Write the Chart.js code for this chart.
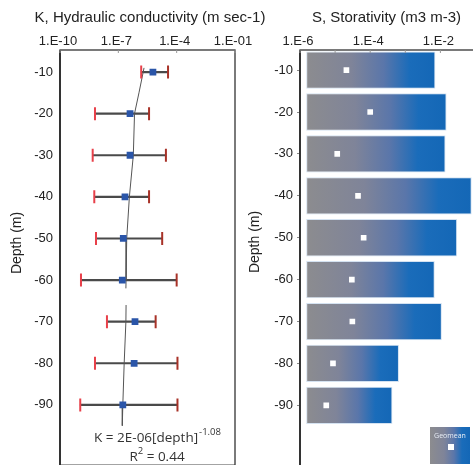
<!DOCTYPE html>
<html>
<head>
<meta charset="utf-8">
<script src="https://cdn.jsdelivr.net/npm/chart.js@4/dist/chart.umd.min.js"></script>
<style>
  html, body { margin: 0; padding: 0; background: #fff; overflow: hidden; width: 473px; height: 465px; }
  #wrap { position: relative; width: 473px; height: 465px; overflow: hidden; }
  canvas { position: absolute; top: 0; }
</style>
</head>
<body>
<div id="wrap">
  <canvas id="kChart" width="300" height="480" style="left:0"></canvas>
  <canvas id="sChart" width="293" height="480" style="left:240px"></canvas>
</div>
<script>
// depth of each test interval (m)
const depths = [-10, -20, -30, -40, -50, -60, -70, -80, -90];

// K, hydraulic conductivity (m/s)
const kGeomean = [6.0e-6, 4.0e-7, 4.0e-7, 2.2e-7, 1.8e-7, 1.6e-7, 7.2e-7, 6.5e-7, 1.7e-7];
const kMin = [1.5e-6, 6.3e-9, 4.8e-9, 5.8e-9, 7.1e-9, 1.2e-9, 2.6e-8, 6.3e-9, 1.1e-9];
const kMax = [3.6e-5, 3.8e-6, 2.8e-5, 3.8e-6, 1.8e-5, 1.0e-4, 8.3e-6, 1.1e-4, 1.1e-4];

// fitted trend line (null = break in the line)
const trendDepth = [-9, -10, -15, -20, -30, -40, -50, -60, -62, null, -66, -70, -80, -90, -95];
const trendK = [2.1e-6, 1.9e-6, 1.15e-6, 6.8e-7, 5.9e-7, 3.7e-7, 2.7e-7, 2.5e-7, 2.45e-7, null, 2.5e-7, 2.45e-7, 2.0e-7, 1.7e-7, 1.6e-7];

const kTickValues = [1e-10, 1e-7, 1e-4, 1e-1];
const kTickLabels = ['1.E-10', '1.E-7', '1.E-4', '1.E-01'];

// S, storativity (m3/m3)
const sBarStart = 1.5e-6;
const sMax = [7.2e-3, 1.5e-2, 1.4e-2, 7.8e-2, 3.0e-2, 6.9e-3, 1.1e-2, 6.6e-4, 4.3e-4];
const sGeomean = [2.1e-5, 1.0e-4, 1.15e-5, 4.5e-5, 6.5e-5, 3.0e-5, 3.1e-5, 8.7e-6, 5.6e-6];

const sTickValues = [1e-6, 1e-5, 1e-4, 1e-3, 1e-2, 1e-1];
const sTickLabels = ['1.E-6', '', '1.E-4', '', '1.E-2', ''];

const FONT = "'Liberation Sans', Arial, sans-serif";
const TXT = '#222';

// box round the plot area + small inward ticks on the top axis
const frame = {
    id: 'frame',
    afterDatasetsDraw(chart) {
        const { ctx, chartArea: a } = chart;
        ctx.save();
        ctx.strokeStyle = '#333';
        ctx.lineWidth = 1.3;
        ctx.strokeRect(a.left, a.top, a.right - a.left, a.bottom - a.top);
        ctx.lineWidth = 2;
        ctx.beginPath();
        ctx.moveTo(a.left, a.top);
        ctx.lineTo(a.left, a.bottom);
        ctx.stroke();
        ctx.lineWidth = 1;
        ctx.strokeStyle = '#999';
        chart.scales.x.ticks.forEach(t => {
            const x = chart.scales.x.getPixelForValue(t.value);
            ctx.beginPath();
            ctx.moveTo(x, a.top);
            ctx.lineTo(x, a.top + 3);
            ctx.stroke();
        });
        ctx.restore();
    }
};

function depthTitle(x, y) {
    return {
        id: 'depthTitle',
        afterDraw(chart) {
            const ctx = chart.ctx;
            ctx.save();
            ctx.translate(x, y);
            ctx.rotate(-Math.PI / 2);
            ctx.font = '14px ' + FONT;
            ctx.fillStyle = TXT;
            ctx.textAlign = 'center';
            ctx.textBaseline = 'middle';
            ctx.fillText('Depth (m)', 0, 0);
            ctx.restore();
        }
    };
}

const fitNote = {
    id: 'fitNote',
    afterDraw(chart) {
        const ctx = chart.ctx;
        ctx.save();
        ctx.fillStyle = '#333';
        ctx.textBaseline = 'alphabetic';
        const big = "13.5px 'Open Sans', sans-serif";
        const sup = "9.5px 'Open Sans', sans-serif";
        ctx.font = big;
        const a = 'K = 2E-06[depth]';
        const wa = ctx.measureText(a).width;
        ctx.font = sup;
        const wb = ctx.measureText('-1.08').width;
        let x = 157 - (wa + wb) / 2;
        ctx.font = big;
        ctx.fillText(a, x, 442);
        ctx.font = sup;
        ctx.fillText('-1.08', x + wa + 1, 435);
        ctx.font = big;
        const wr = ctx.measureText('R').width;
        const wq = ctx.measureText(' = 0.44').width;
        ctx.font = sup;
        const w2 = ctx.measureText('2').width;
        x = 157 - (wr + w2 + wq) / 2;
        ctx.font = big;
        ctx.fillText('R', x, 461);
        ctx.fillText(' = 0.44', x + wr + w2, 461);
        ctx.font = sup;
        ctx.fillText('2', x + wr, 454);
        ctx.restore();
    }
};

function barGradient(ctx, x0, x1) {
    const g = ctx.createLinearGradient(x0, 0, x1, 0);
    g.addColorStop(0, '#8c8c8f');
    g.addColorStop(0.35, '#7f8499');
    g.addColorStop(0.6, '#5a76aa');
    g.addColorStop(0.8, '#1a6cba');
    g.addColorStop(1, '#1467b6');
    return g;
}

const geoLegend = {
    id: 'geoLegend',
    afterDraw(chart) {
        const ctx = chart.ctx;
        const x = 190, y = 427, w = 40, h = 37;
        ctx.save();
        ctx.fillStyle = barGradient(ctx, x, x + w);
        ctx.fillRect(x, y, w, h);
        ctx.fillStyle = '#e8eef6';
        ctx.font = "7px 'Open Sans', sans-serif";
        ctx.textAlign = 'center';
        ctx.textBaseline = 'middle';
        ctx.fillText('Geomean', x + w / 2, y + 9);
        ctx.fillStyle = '#fff';
        ctx.fillRect(x + 18, y + 17, 6, 6);
        ctx.restore();
    }
};

function xAxis(values, labels, min, max) {
    return {
        type: 'logarithmic',
        position: 'top',
        min: min,
        max: max,
        afterBuildTicks: (s) => { s.ticks = values.map(v => ({ value: v })); },
        afterFit: (s) => { s.height = 23; },
        grid: { display: false, drawTicks: false, tickLength: 0 },
        border: { display: false },
        ticks: {
            color: TXT, font: { size: 13, family: FONT }, autoSkip: false, maxRotation: 0, padding: 1, labelOffset: -2,
            callback: (v, i) => labels[i]
        }
    };
}

function yAxis(min, max, grid, pad) {
    return {
        type: 'linear',
        offset: false,
        min: min,
        max: max,
        afterBuildTicks: (s) => { s.ticks = depths.map(v => ({ value: v })); },
        afterFit: (s) => { s.width = 60; },
        grid: grid,
        border: { display: false },
        ticks: { color: TXT, font: { size: 13, family: FONT }, autoSkip: false, padding: pad, callback: v => String(v) }
    };
}

// empty right-hand axis: keeps the plot's right edge where it belongs while the title centres on the canvas
function spacer(w) {
    return {
        type: 'linear', position: 'right', display: true,
        afterFit: (s) => { s.width = w; },
        grid: { display: false }, border: { display: false }, ticks: { display: false }
    };
}

function titleOpts(text) {
    return {
        display: true,
        text: text,
        color: TXT,
        font: { size: 15, family: FONT, weight: 'normal' },
        padding: { top: 9, bottom: 0 }
    };
}

new Chart(document.getElementById('kChart'), {
    type: 'scatter',
    data: {
        datasets: [
            {
                type: 'bar',
                indexAxis: 'y',
                data: depths.map((d, i) => ({ y: d, x: [kMin[i], kMax[i]] })),
                backgroundColor: '#4a4a4a',
                barThickness: 1.5,
                order: 3
            },
            {
                data: trendDepth.map((d, i) => ({ x: trendK[i], y: d })),
                showLine: true,
                spanGaps: false,
                borderColor: '#555',
                borderWidth: 1,
                pointRadius: 0,
                order: 2
            },
            {
                data: depths.map((d, i) => ({ x: kMin[i], y: d })),
                pointStyle: 'line',
                rotation: 90,
                pointRadius: 6.5,
                borderColor: '#e8404a',
                borderWidth: 2,
                order: 1
            },
            {
                data: depths.map((d, i) => ({ x: kMax[i], y: d })),
                pointStyle: 'line',
                rotation: 90,
                pointRadius: 6.5,
                borderColor: '#a83228',
                borderWidth: 2,
                order: 1
            },
            {
                data: depths.map((d, i) => ({ x: kGeomean[i], y: d })),
                pointStyle: 'rect',
                pointRadius: 4.8,
                backgroundColor: '#2a55a8',
                borderColor: '#2a55a8',
                borderWidth: 0,
                order: 0
            }
        ]
    },
    options: {
        responsive: false,
        devicePixelRatio: 1,
        animation: false,
        layout: { padding: 0 },
        plugins: {
            legend: { display: false },
            tooltip: { enabled: false },
            title: titleOpts('K, Hydraulic conductivity (m sec-1)')
        },
        scales: {
            x: xAxis(kTickValues, kTickLabels, 1e-10, 1e-1),
            y: yAxis(-104.5, -4.7, { display: false, drawTicks: false, tickLength: 0 }, 7),
            yr: spacer(65)
        }
    },
    plugins: [frame, depthTitle(17, 243), fitNote]
});

new Chart(document.getElementById('sChart'), {
    type: 'bar',
    data: {
        datasets: [
            {
                type: 'bar',
                data: depths.map((d, i) => ({ y: d, x: [sBarStart, sMax[i]] })),
                backgroundColor: (c) => {
                    const chart = c.chart;
                    if (!chart.chartArea || !c.raw) return '#6f7fa0';
                    const xs = chart.scales.x;
                    return barGradient(chart.ctx, xs.getPixelForValue(c.raw.x[0]), xs.getPixelForValue(c.raw.x[1]));
                },
                borderColor: '#d4e2f1',
                borderWidth: 1,
                borderSkipped: false,
                barPercentage: 0.89,
                categoryPercentage: 1,
                order: 1
            },
            {
                type: 'scatter',
                data: depths.map((d, i) => ({ x: sGeomean[i], y: d })),
                pointStyle: 'rect',
                pointRadius: 4,
                backgroundColor: '#ffffff',
                borderWidth: 0,
                order: 0
            }
        ]
    },
    options: {
        indexAxis: 'y',
        responsive: false,
        devicePixelRatio: 1,
        animation: false,
        layout: { padding: 0 },
        plugins: {
            legend: { display: false },
            tooltip: { enabled: false },
            title: titleOpts('S, Storativity (m3 m-3)')
        },
        scales: {
            x: xAxis(sTickValues, sTickLabels, 1e-6, 1e-1),
            y: yAxis(-105, -5.2, { display: true, drawOnChartArea: false, drawTicks: true, tickLength: 3, color: '#888', offset: false }, 4),
            yr: spacer(57.5)
        }
    },
    plugins: [frame, depthTitle(15, 242), geoLegend]
});
</script>
</body>
</html>
